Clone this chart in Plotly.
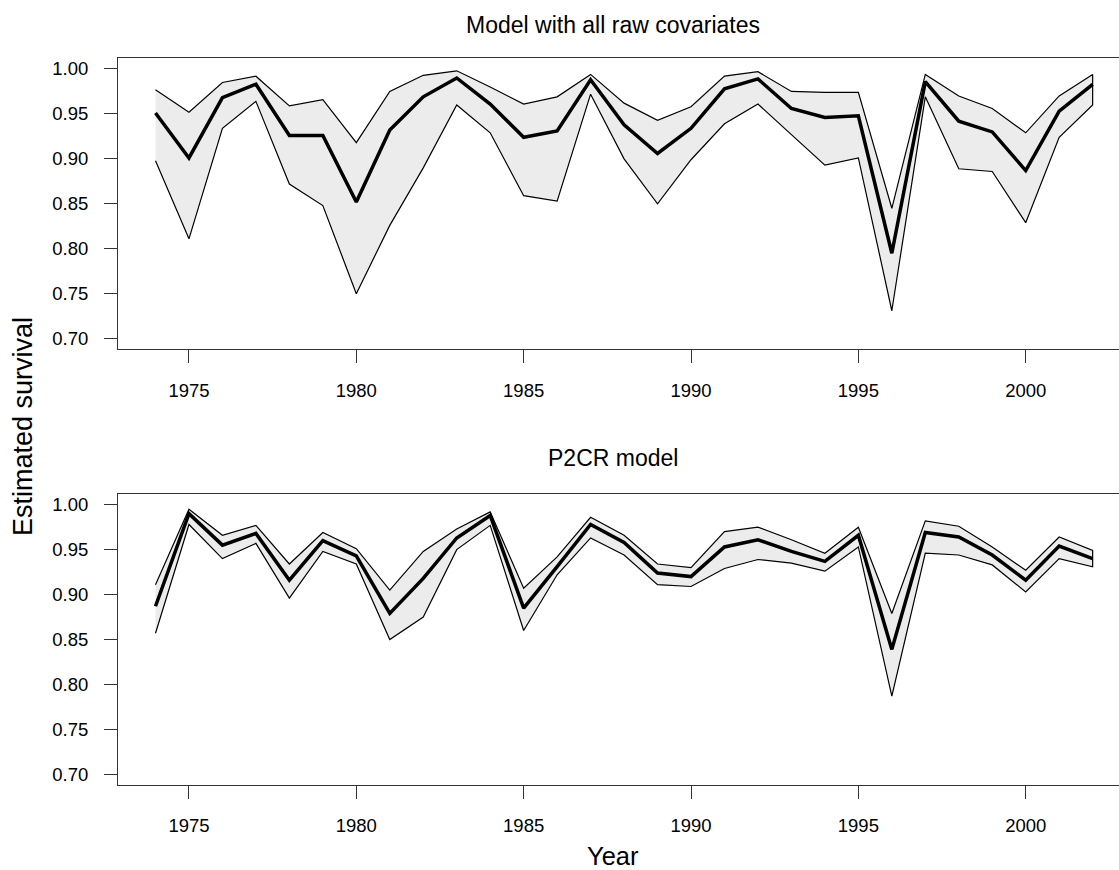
import plotly.graph_objects as go

years = list(range(1974, 2003))

# Model with all raw covariates
top_mean = [0.951, 0.901, 0.968, 0.983, 0.926, 0.926, 0.852, 0.932, 0.969, 0.990,
            0.961, 0.924, 0.931, 0.988, 0.938, 0.906, 0.934, 0.978, 0.989, 0.956,
            0.946, 0.948, 0.795, 0.986, 0.942, 0.930, 0.887, 0.953, 0.983]
top_upper = [0.977, 0.952, 0.985, 0.992, 0.959, 0.966, 0.918, 0.975, 0.993, 0.998,
             0.980, 0.961, 0.969, 0.994, 0.962, 0.943, 0.958, 0.992, 0.997, 0.975,
             0.974, 0.974, 0.845, 0.994, 0.970, 0.956, 0.929, 0.970, 0.994]
top_lower = [0.898, 0.811, 0.934, 0.964, 0.872, 0.848, 0.750, 0.826, 0.890, 0.960,
             0.929, 0.859, 0.853, 0.972, 0.900, 0.850, 0.899, 0.939, 0.961, 0.927,
             0.893, 0.901, 0.731, 0.969, 0.889, 0.886, 0.829, 0.924, 0.960]

# P2CR model
bot_mean = [0.887, 0.990, 0.955, 0.968, 0.916, 0.960, 0.943, 0.879, 0.918, 0.963,
            0.988, 0.885, 0.931, 0.978, 0.958, 0.924, 0.920, 0.953, 0.961, 0.948,
            0.937, 0.966, 0.839, 0.969, 0.964, 0.944, 0.916, 0.954, 0.940]
bot_upper = [0.911, 0.995, 0.966, 0.977, 0.934, 0.969, 0.951, 0.905, 0.948, 0.973,
             0.992, 0.907, 0.942, 0.986, 0.966, 0.934, 0.930, 0.970, 0.975, 0.961,
             0.946, 0.975, 0.879, 0.982, 0.976, 0.953, 0.927, 0.964, 0.949]
bot_lower = [0.857, 0.978, 0.940, 0.957, 0.896, 0.948, 0.934, 0.850, 0.875, 0.950,
             0.977, 0.860, 0.922, 0.963, 0.944, 0.911, 0.909, 0.929, 0.939, 0.935,
             0.926, 0.953, 0.787, 0.946, 0.944, 0.933, 0.903, 0.940, 0.931]

titles = ["Model with all raw covariates", "P2CR model"]
x_ticks = [1975, 1980, 1985, 1990, 1995, 2000]
y_ticks = [0.70, 0.75, 0.80, 0.85, 0.90, 0.95, 1.00]

FONT = "Liberation Sans, Arial, Helvetica, sans-serif"
W, H = 1119, 870

fig = go.Figure()

panels = [(top_mean, top_upper, top_lower, "x", "y"),
          (bot_mean, bot_upper, bot_lower, "x2", "y2")]
for mean, upper, lower, xa, ya in panels:
    fig.add_trace(go.Scatter(
        x=years + years[::-1], y=upper + lower[::-1],
        fill="toself", fillcolor="#ECECEC", mode="lines",
        line=dict(color="black", width=1.2),
        xaxis=xa, yaxis=ya, showlegend=False, hoverinfo="skip"))
    fig.add_trace(go.Scatter(
        x=years, y=mean, mode="lines",
        line=dict(color="black", width=3.5),
        xaxis=xa, yaxis=ya, showlegend=False))

xr = [1972.88, 1972.88 + 1001 / 33.47]
yr = [0.6881, 1.0119]

def xaxis(anchor):
    return dict(range=xr, domain=[0, 1], anchor=anchor, tickvals=x_ticks,
                ticks="outside", ticklen=13, tickcolor="#333", tickwidth=1,
                showline=True, linecolor="#333", linewidth=1, mirror=True,
                showgrid=False, zeroline=False, ticklabelstandoff=11,
                tickfont=dict(family=FONT, size=18.5, color="black"))

def yaxis(anchor, dom):
    return dict(range=yr, domain=dom, anchor=anchor, tickvals=y_ticks,
                tickformat=".2f",
                ticks="outside", ticklen=13, tickcolor="#333", tickwidth=1,
                showline=True, linecolor="#333", linewidth=1, mirror=False,
                showgrid=False, zeroline=False, ticklabelstandoff=12,
                tickfont=dict(family=FONT, size=18.5, color="black"))

top_dom = [1 - 349.3 / H, 1 - 58.3 / H]
bot_dom = [1 - 785.0 / H, 1 - 494.0 / H]

fig.update_layout(
    width=W, height=H,
    margin=dict(l=118, r=0, t=0, b=0),
    paper_bgcolor="white", plot_bgcolor="white",
    xaxis=xaxis("y"), yaxis=yaxis("x", top_dom),
    xaxis2=xaxis("y2"), yaxis2=yaxis("x2", bot_dom),
    font=dict(family=FONT, color="black"),
)

def px_x(px):
    return (px - 118) / 1001

def px_y(py):
    return 1 - py / H

fig.add_annotation(text=titles[0], x=px_x(612.5), y=px_y(24.5), xref="paper", yref="paper",
                   xanchor="center", yanchor="middle", showarrow=False,
                   font=dict(family=FONT, size=23, color="black"))
fig.add_annotation(text=titles[1], x=px_x(613), y=px_y(458), xref="paper", yref="paper",
                   xanchor="center", yanchor="middle", showarrow=False,
                   font=dict(family=FONT, size=23, color="black"))
fig.add_annotation(text="Year", x=px_x(612.7), y=px_y(856), xref="paper", yref="paper",
                   xanchor="center", yanchor="middle", showarrow=False,
                   font=dict(family=FONT, size=25.5, color="black"))
fig.add_annotation(text="Estimated survival", x=px_x(22.5), y=px_y(426.5), xref="paper", yref="paper",
                   xanchor="center", yanchor="middle", showarrow=False, textangle=-90,
                   font=dict(family=FONT, size=27, color="black"))

fig.write_html("out.html",
               config={"displayModeBar": False},
               post_script="document.body.style.margin='0';document.body.style.overflow='hidden';")
